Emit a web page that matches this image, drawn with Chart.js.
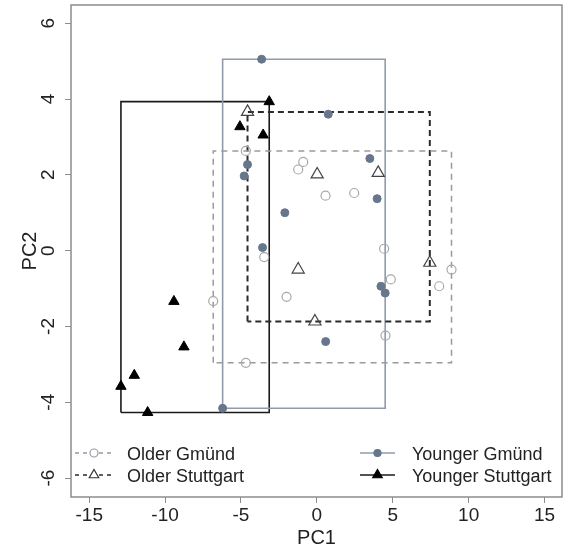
<!DOCTYPE html>
<html>
<head>
<meta charset="utf-8">
<script src="https://cdn.jsdelivr.net/npm/chart.js@4.4.0/dist/chart.umd.min.js"></script>
<style>
html, body { margin: 0; padding: 0; background: #fff; }
#wrap { width: 564px; height: 560px; }
</style>
</head>
<body>
<div id="wrap"><canvas id="pca"></canvas></div>
<script>
// values
const olderGmundX = [-4.68, -0.90, -1.23, 0.57, 2.46, -3.47, -2.00, -6.83, 4.43, 4.87, 8.87, 8.06, 4.52, -4.68];
const olderGmundY = [2.63, 2.34, 2.14, 1.45, 1.52, -0.17, -1.22, -1.33, 0.05, -0.76, -0.50, -0.94, -2.24, -2.96];

const olderStuttgartX = [-4.57, 4.04, 0.02, -1.23, -0.13, 7.44];
const olderStuttgartY = [3.66, 2.05, 2.01, -0.50, -1.87, -0.32];

const youngerGmundX = [-3.64, 0.75, -4.57, -4.79, 3.49, 3.97, -2.11, -3.58, 4.22, 4.50, 0.58, -6.21];
const youngerGmundY = [5.05, 3.60, 2.27, 1.97, 2.43, 1.37, 1.00, 0.08, -0.94, -1.12, -2.40, -4.16];

const youngerStuttgartX = [-3.14, -5.07, -3.54, -9.42, -8.76, -12.03, -12.91, -11.15];
const youngerStuttgartY = [3.93, 3.27, 3.05, -1.34, -2.54, -3.29, -3.58, -4.27];

const xTicks = [-15, -10, -5, 0, 5, 10, 15];
const yTicks = [-6, -4, -2, 0, 2, 4, 6];

function pts(xs, ys) {
    return xs.map((x, i) => ({ x: x, y: ys[i] }));
}

// rectangle spanning the min / max of a group
function box(xs, ys) {
    const x0 = Math.min(...xs), x1 = Math.max(...xs);
    const y0 = Math.min(...ys), y1 = Math.max(...ys);
    return [{x: x0, y: y0}, {x: x0, y: y1}, {x: x1, y: y1}, {x: x1, y: y0}, {x: x0, y: y0}];
}

const styles = {
    og: { line: "#9a9a9a", dash: [6, 5], width: 1.5 },
    os: { line: "#2b2b2b", dash: [6, 4], width: 2 },
    yg: { line: "#8f9bab", dash: [], width: 1.6 },
    ys: { line: "#1a1a1a", dash: [], width: 1.6 }
};

function boxSet(xs, ys, st) {
    return {
        type: "line",
        data: box(xs, ys),
        showLine: true,
        fill: false,
        borderColor: st.line,
        borderWidth: st.width,
        borderDash: st.dash,
        pointRadius: 0,
        tension: 0,
        order: 5
    };
}

const frame = {
    id: "frame",
    afterDraw(c) {
        const a = c.chartArea, ctx = c.ctx;
        ctx.save();
        ctx.strokeStyle = "#8c8c8c";
        ctx.lineWidth = 1.5;
        ctx.strokeRect(a.left, a.top, a.right - a.left, a.bottom - a.top);
        ctx.restore();
    }
};

function marker(ctx, kind, x, y, r, fill, stroke) {
    ctx.beginPath();
    if (kind === "circle") {
        ctx.arc(x, y, r, 0, Math.PI * 2);
    } else {
        for (let k = 0; k < 3; k++) {
            const ang = k * 2 * Math.PI / 3;
            const px = x + Math.sin(ang) * r, py = y - Math.cos(ang) * r;
            if (k === 0) ctx.moveTo(px, py); else ctx.lineTo(px, py);
        }
        ctx.closePath();
    }
    ctx.fillStyle = fill || "#fff";
    ctx.fill();
    ctx.strokeStyle = stroke;
    ctx.lineWidth = 1.2;
    ctx.stroke();
}

const legendItems = [
    { text: "Older Gmünd", col: 0, row: 0, kind: "circle", r: 4, fill: null, stroke: "#9a9aa8", st: styles.og },
    { text: "Older Stuttgart", col: 0, row: 1, kind: "triangle", r: 5.5, fill: null, stroke: "#333", st: styles.os },
    { text: "Younger Gmünd", col: 1, row: 0, kind: "circle", r: 3.5, fill: "#66768b", stroke: "#66768b", st: styles.yg },
    { text: "Younger Stuttgart", col: 1, row: 1, kind: "triangle", r: 5.5, fill: "#000", stroke: "#000", st: styles.ys }
];

const legendPlugin = {
    id: "boxLegend",
    afterDraw(c) {
        const ctx = c.ctx;
        const cols = [{ x0: 75, x1: 113, text: 127 }, { x0: 360, x1: 395, text: 412 }];
        const rows = [453, 475];
        ctx.save();
        legendItems.forEach(it => {
            const cl = cols[it.col], y = rows[it.row];
            ctx.beginPath();
            ctx.setLineDash(it.col === 0 ? [4, 4] : []);
            ctx.strokeStyle = it.st.line;
            ctx.lineWidth = 1.5;
            ctx.moveTo(cl.x0, y);
            ctx.lineTo(cl.x1, y);
            ctx.stroke();
            ctx.setLineDash([]);
            marker(ctx, it.kind, (cl.x0 + cl.x1) / 2, y, it.r, it.fill, it.stroke);
            ctx.fillStyle = "#222";
            ctx.font = "18px 'Liberation Sans', Arial, sans-serif";
            ctx.textBaseline = "alphabetic";
            ctx.textAlign = "left";
            ctx.fillText(it.text, cl.text, y + 6.5);
        });
        ctx.restore();
    }
};

const tickFont = { family: "'Liberation Sans', Arial, sans-serif", size: 19 };

function noPad(s) {
    s.paddingTop = 0;
    s.paddingBottom = 0;
    s.paddingLeft = 0;
    s.paddingRight = 0;
}

new Chart(document.getElementById("pca"), {
    type: "scatter",
    data: {
        datasets: [
            {
                label: "Older Gmünd",
                data: pts(olderGmundX, olderGmundY),
                pointStyle: "circle",
                pointRadius: 4.5,
                pointBorderWidth: 1.2,
                backgroundColor: "rgba(255,255,255,0)",
                borderColor: "#a8a8a8",
                order: 1
            },
            {
                label: "Older Stuttgart",
                data: pts(olderStuttgartX, olderStuttgartY),
                pointStyle: "triangle",
                pointRadius: 7,
                pointBorderWidth: 1.2,
                backgroundColor: "rgba(255,255,255,0)",
                borderColor: "#444",
                order: 1
            },
            {
                label: "Younger Gmünd",
                data: pts(youngerGmundX, youngerGmundY),
                pointStyle: "circle",
                pointRadius: 4,
                pointBorderWidth: 1,
                backgroundColor: "#66768b",
                borderColor: "#66768b",
                order: 1
            },
            {
                label: "Younger Stuttgart",
                data: pts(youngerStuttgartX, youngerStuttgartY),
                pointStyle: "triangle",
                pointRadius: 6,
                pointBorderWidth: 1,
                backgroundColor: "#000",
                borderColor: "#000",
                order: 1
            },
            boxSet(olderGmundX, olderGmundY, styles.og),
            boxSet(olderStuttgartX, olderStuttgartY, styles.os),
            boxSet(youngerGmundX, youngerGmundY, styles.yg),
            boxSet(youngerStuttgartX, youngerStuttgartY, styles.ys)
        ]
    },
    options: {
        responsive: true,
        maintainAspectRatio: false,
        animation: false,
        devicePixelRatio: 1,
        layout: { autoPadding: false, padding: { top: 5, right: 2, left: 0, bottom: 0 } },
        plugins: {
            legend: { display: false },
            tooltip: { enabled: false }
        },
        scales: {
            x: {
                type: "linear",
                min: -16.2,
                max: 16.15,
                afterBuildTicks: s => { s.ticks = xTicks.map(v => ({ value: v })); },
                afterFit: s => { s.height = 63; noPad(s); },
                grid: { drawOnChartArea: false, drawTicks: true, tickLength: 6, color: "#8c8c8c" },
                border: { display: false },
                ticks: { font: tickFont, color: "#222", padding: 1, maxRotation: 0 },
                title: { display: true, text: "PC1", font: { family: tickFont.family, size: 20 }, color: "#222", padding: { top: 0, bottom: 10 } }
            },
            y: {
                type: "linear",
                min: -6.5,
                max: 6.48,
                afterBuildTicks: s => { s.ticks = yTicks.map(v => ({ value: v })); },
                afterFit: s => { s.width = 71; noPad(s); },
                grid: { drawOnChartArea: false, drawTicks: true, tickLength: 6, color: "#8c8c8c" },
                border: { display: false },
                ticks: { font: tickFont, color: "#222", padding: 8, minRotation: 90, maxRotation: 90, crossAlign: "center" },
                title: { display: true, text: "PC2", font: { family: tickFont.family, size: 20 }, color: "#222", padding: { top: 18, bottom: 0 } }
            }
        }
    },
    plugins: [frame, legendPlugin]
});
</script>
</body>
</html>
